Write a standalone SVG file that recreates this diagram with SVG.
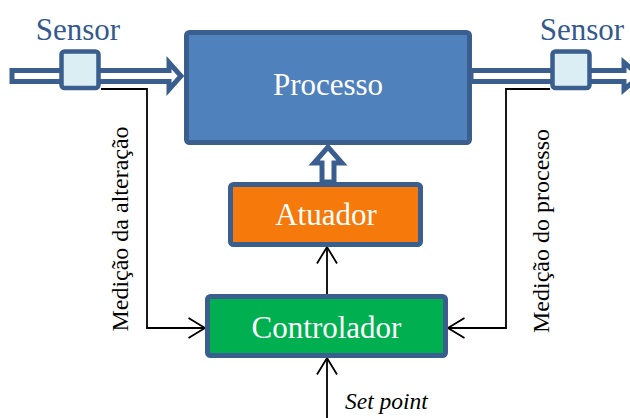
<svg xmlns="http://www.w3.org/2000/svg" width="630" height="418" viewBox="0 0 630 418">
<style>
.box{stroke:#3A5F8F;stroke-width:5}
.hollow{fill:#fff;stroke:#3A5F8F;stroke-width:5;stroke-linejoin:miter}
.sensor{fill:#DBEEF4;stroke:#3A5F8F;stroke-width:4.5}
.lbl{font-family:"Liberation Serif","Times New Roman",serif;font-size:31px;fill:#fff;text-anchor:middle}
.slbl{font-family:"Liberation Serif","Times New Roman",serif;font-size:31px;fill:#34598C;text-anchor:middle}
.rot{font-family:"Liberation Serif","Times New Roman",serif;font-size:24px;fill:#000;text-anchor:middle}
.conn{fill:none;stroke:#000;stroke-width:1.8}
</style>
<defs>
<marker id="chev" viewBox="0 0 20 24" refX="18.5" refY="12" markerWidth="20" markerHeight="24" orient="auto" markerUnits="userSpaceOnUse">
<path d="M2,2 L18.5,12 L2,22" fill="none" stroke="#000" stroke-width="1.8"/>
</marker>
</defs>
<g id="connectors">
<path class="hollow" d="M12,70.5 L169,70.5 L169,62.5 L181,76 L169,89.5 L169,81.5 L12,81.5 Z"/>
<path class="hollow" d="M471,70.5 L624,70.5 L624,62.5 L640,76 L624,89.5 L624,81.5 L471,81.5 Z"/>
<path class="hollow" d="M322,182 L322,163 L314,163 L328,147 L342,163 L334,163 L334,182 Z"/>
<path class="conn" d="M101,89 L147,89 L147,328 L205,328" marker-end="url(#chev)"/>
<path class="conn" d="M550,89 L506,89 L506,328 L448,328" marker-end="url(#chev)"/>
<path class="conn" d="M327,294 L327,247" marker-end="url(#chev)"/>
<path class="conn" d="M327,418 L327,358" marker-end="url(#chev)"/>
</g>
<g id="processo">
<rect class="box" x="186.5" y="32.5" width="283" height="110" rx="3" fill="#4F81BD"/>
<text class="lbl" x="328" y="95">Processo</text>
</g>
<g id="sensor-left">
<rect class="sensor" x="61.5" y="51.5" width="37" height="36.5" rx="3"/>
<text class="slbl" x="78" y="40">Sensor</text>
</g>
<g id="sensor-right">
<rect class="sensor" x="552.5" y="51.5" width="37" height="36.5" rx="3"/>
<text class="slbl" x="582" y="40">Sensor</text>
</g>
<g id="atuador">
<rect class="box" x="230.5" y="184.5" width="190" height="60" rx="3" fill="#F5790B"/>
<text class="lbl" x="326" y="225">Atuador</text>
</g>
<g id="controlador">
<rect class="box" x="207.5" y="296.5" width="238" height="59" rx="3" fill="#00B050"/>
<text class="lbl" x="326.5" y="338">Controlador</text>
</g>
<g id="labels">
<text class="rot" transform="translate(128,229) rotate(-90)">Medição da alteração</text>
<text class="rot" transform="translate(549,231) rotate(-90)">Medição do processo</text>
<text x="345" y="409" font-family="Liberation Serif,Times New Roman,serif" font-size="23.5" font-style="italic" fill="#000">Set point</text>
</g>
</svg>
